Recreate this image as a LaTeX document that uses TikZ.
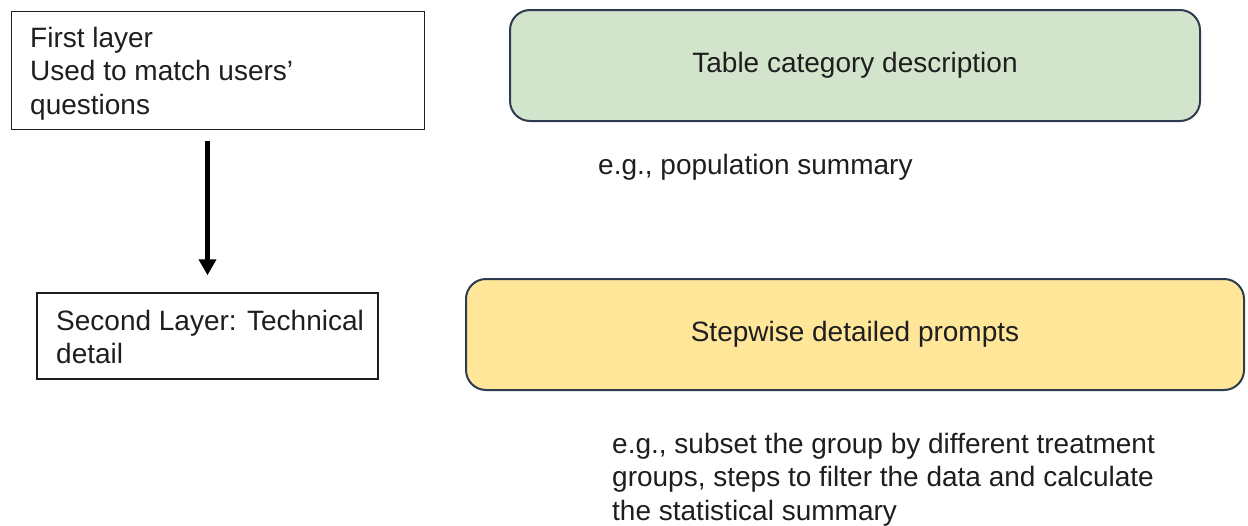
\documentclass[tikz,border=0pt]{standalone}
\usepackage{fontspec}
\setmainfont{Liberation Sans}
\usetikzlibrary{arrows.meta,positioning}
\definecolor{catgreen}{HTML}{D3E4CD}
\definecolor{stepyellow}{HTML}{FFE699}
\definecolor{edgenavy}{HTML}{2F3B4F}
\definecolor{inkgray}{HTML}{1E1E1E}

\begin{document}
\begin{tikzpicture}[x=1pt,y=-1pt,
    every node/.style={font=\fontsize{28}{33.5}\selectfont,text=inkgray},
    layerbox/.style={draw=inkgray,line width=1.5pt,inner sep=0pt},
    promptbox/.style={draw=edgenavy,line width=2pt,rounded corners=20pt,inner sep=0pt},
    plain/.style={inner sep=0pt,align=left},
    flow/.style={-{Triangle[width=17pt,length=16pt]},line width=4.5pt,black}]
  \useasboundingbox (0,0) rectangle (1248,525);
  % left column: the two layers
  \node[layerbox,minimum width=413pt,minimum height=118pt] (first) at (218,70.5) {};
  \node[plain,anchor=north west] (firsttxt) at (30,27) {First layer\\Used to match users'\\questions};
  \node[layerbox,minimum width=341pt,minimum height=86pt] (second) at (207.5,336) {};
  \node[plain,anchor=north west] (secondtxt) at (56,310) {Second Layer: Technical\\detail};
  \draw[flow,shorten <=11pt,shorten >=17pt] (first.south -| second.north) -- (second.north);
  % right column: what each layer holds
  \node[promptbox,fill=catgreen,minimum width=690pt,minimum height=111pt] (category) at (855,65.5) {Table category description};
  \node[plain,anchor=base west] (catex) at (598,174) {e.g., population summary};
  \node[promptbox,fill=stepyellow,minimum width=778pt,minimum height=111pt] (steps) at (855,334.5) {Stepwise detailed prompts};
  \node[plain,anchor=north west] (stepex) at (612,433) {e.g., subset the group by different treatment\\groups, steps to filter the data and calculate\\the statistical summary};
\end{tikzpicture}
\end{document}
